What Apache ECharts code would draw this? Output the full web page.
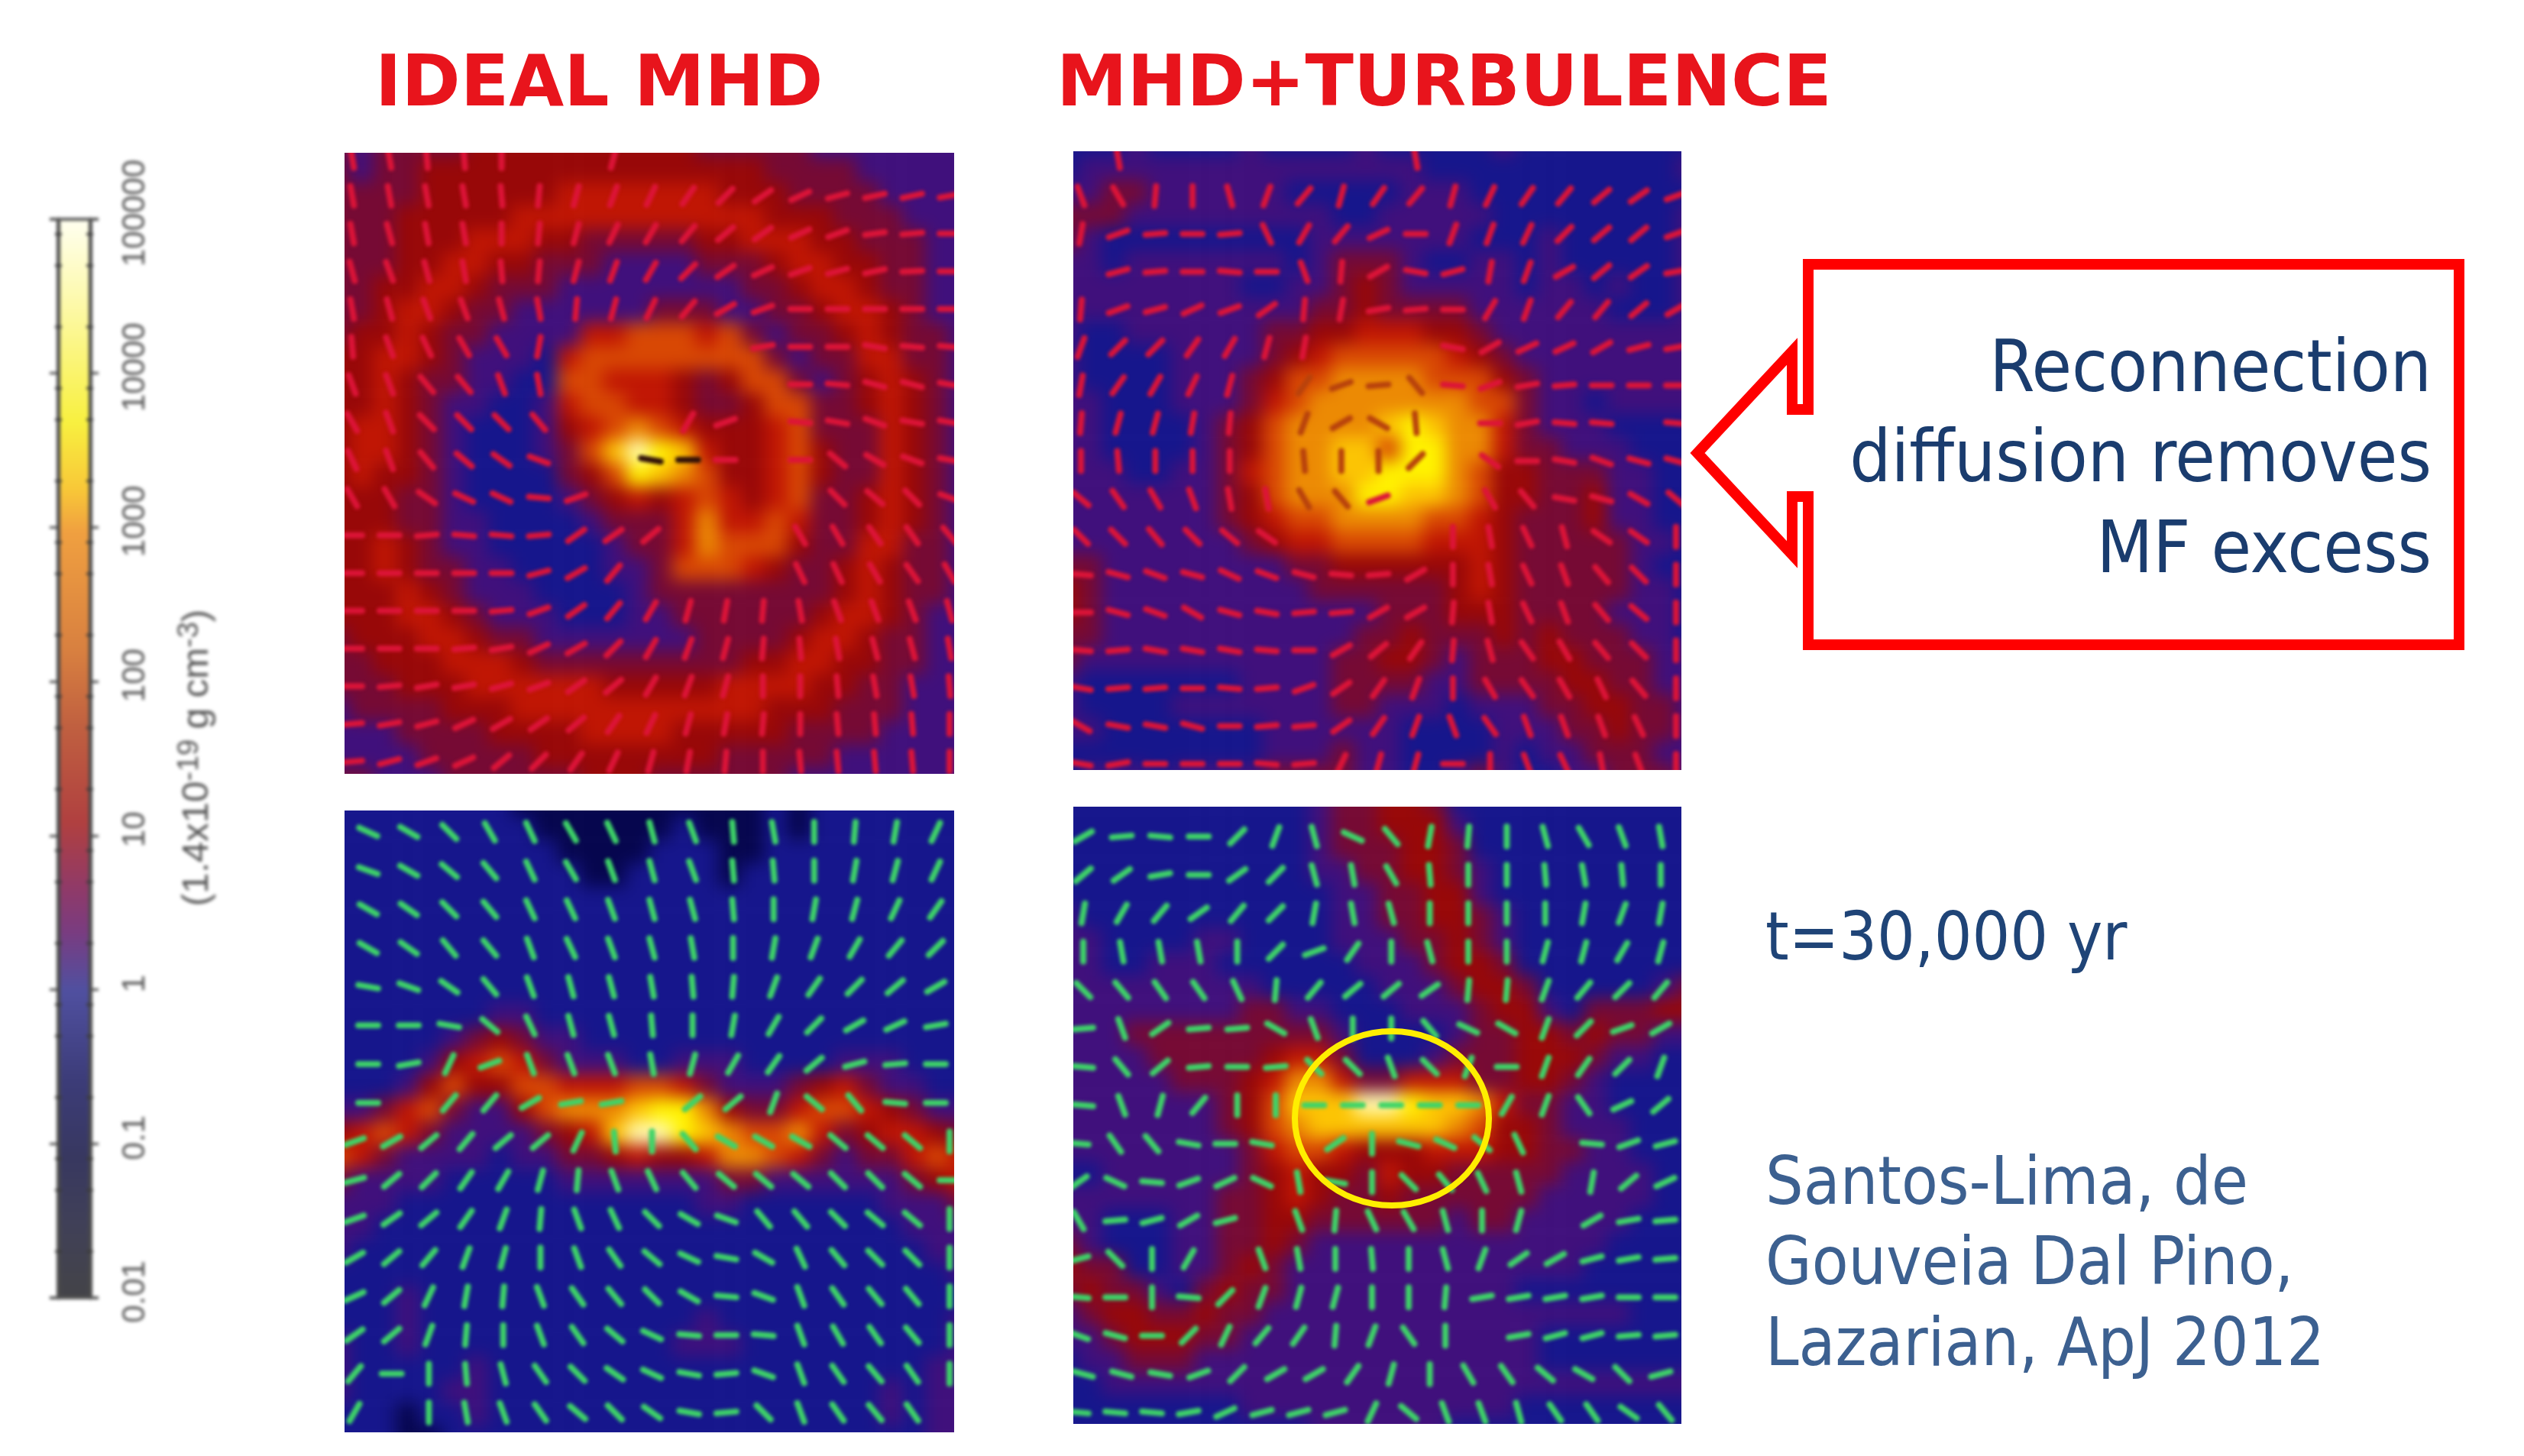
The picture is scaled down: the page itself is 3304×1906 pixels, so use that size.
<!DOCTYPE html>
<html>
<head>
<meta charset="utf-8">
<title>MHD density maps</title>
<script src="https://cdn.jsdelivr.net/npm/echarts@6/dist/echarts.min.js"></script>
<style>
html,body{margin:0;padding:0;background:#fff;}
.layer{position:absolute;left:0;top:0;width:3304px;height:1906px;}
#heat{filter:blur(11px);}
#detail{filter:blur(2.2px);}
</style>
</head>
<body>
<div id="heat" class="layer"></div>
<div id="detail" class="layer"></div>
<div id="overlay" class="layer"></div>
<script>
// density level of each cell, 0 = darkest blue ... 10 = white hot
var heatA = [
[3,2,3,3,3,3,4,4,4,4,4,4,4,4,4,4,3,3,3,3,3,2,2,2,2,2,2,2],
[3,2,3,3,4,4,4,4,4,4,4,4,4,4,4,4,4,4,4,3,3,3,3,2,2,2,2,2],
[3,3,3,3,4,4,4,4,4,4,5,5,5,5,5,5,5,4,4,4,3,3,3,3,2,2,2,2],
[3,3,3,4,4,4,4,4,5,5,5,5,5,5,5,5,5,5,5,4,4,4,3,3,3,2,2,2],
[3,3,3,4,4,4,5,5,5,4,4,3,3,3,3,3,4,4,5,5,5,4,4,3,3,3,2,2],
[3,3,3,4,4,5,5,4,4,3,3,3,2,2,2,2,3,3,3,4,5,5,4,4,3,3,2,2],
[3,3,4,4,5,5,4,3,3,3,2,2,2,2,2,2,2,2,3,3,4,5,5,4,3,3,2,2],
[3,3,4,5,5,4,3,3,2,2,2,2,2,2,3,3,3,2,2,3,3,4,5,5,4,3,2,2],
[3,4,4,5,4,3,3,2,2,2,2,5,5,6,6,6,5,6,3,2,3,3,4,5,4,3,3,2],
[4,4,5,5,4,3,2,2,2,1,5,6,6,6,6,6,6,6,6,3,2,3,3,5,5,3,3,2],
[4,4,5,4,3,3,2,2,1,1,6,6,5,5,5,4,3,4,6,6,3,2,3,4,5,4,3,2],
[4,4,5,4,3,2,2,1,1,2,5,6,6,5,5,4,3,3,4,6,6,3,3,4,5,4,3,2],
[4,5,5,4,3,2,1,1,1,2,4,5,6,7,6,5,4,4,4,5,6,3,3,3,5,4,3,2],
[4,5,5,4,3,2,1,1,1,2,3,6,8,10,9,8,5,4,4,5,6,4,3,3,5,4,3,2],
[4,5,4,4,3,2,1,1,1,1,3,4,6,9,8,7,6,4,4,5,6,4,3,3,5,4,3,2],
[4,4,4,3,3,2,1,1,1,1,2,3,4,5,4,5,6,5,4,5,6,3,3,4,5,4,3,2],
[4,4,4,3,3,2,2,1,1,1,1,2,3,3,3,5,7,5,5,6,5,3,3,4,5,4,3,2],
[4,4,5,4,3,2,2,1,1,1,1,1,2,3,3,5,7,6,6,6,4,3,3,5,5,3,3,2],
[4,4,5,4,3,3,2,2,1,1,1,1,2,2,3,6,6,6,5,4,3,3,4,5,4,3,3,2],
[4,4,4,5,4,3,2,2,2,1,1,1,1,2,3,3,3,3,3,3,3,3,4,5,4,3,3,2],
[4,4,4,5,5,4,3,2,2,2,1,1,1,2,2,3,3,3,3,3,3,4,5,5,4,3,2,2],
[3,4,4,4,5,5,4,3,3,2,2,2,2,2,2,2,3,3,3,3,4,5,5,4,3,3,2,2],
[3,3,4,4,4,5,5,5,4,3,3,3,3,3,3,3,3,3,4,4,5,5,4,4,3,3,2,2],
[3,3,3,4,4,4,5,5,5,5,5,5,4,4,4,4,4,5,5,5,5,4,4,3,3,2,2,2],
[2,3,3,3,3,4,4,4,5,5,5,5,5,5,5,5,5,5,5,4,4,4,3,3,3,2,2,2],
[2,2,2,3,3,3,3,4,4,4,4,5,5,5,5,4,4,4,4,4,3,3,3,3,2,2,2,2],
[2,2,2,2,3,3,3,3,3,4,4,4,4,4,4,4,4,3,3,3,3,3,2,2,2,2,2,2],
[3,3,2,2,2,3,3,3,3,3,3,4,4,4,3,3,3,3,3,3,2,2,2,2,2,2,2,2]
];
var heatB = [
[1,1,1,2,1,1,1,1,2,1,1,1,1,2,1,1,1,1,1,2,1,1,1,1,1,1,1,1],
[1,2,2,2,2,2,2,2,2,2,2,2,2,2,2,2,1,1,1,1,1,1,1,1,1,1,1,2],
[2,2,3,3,2,2,2,2,2,2,1,1,1,1,1,2,2,2,1,1,1,1,1,1,1,1,1,1],
[3,3,3,2,2,2,2,2,2,2,2,2,1,1,2,2,2,2,2,1,1,1,1,1,1,1,1,2],
[3,2,1,1,1,1,1,1,1,1,1,2,2,2,2,2,2,2,1,1,1,2,1,1,1,1,1,2],
[2,2,1,2,2,2,2,2,2,2,1,2,3,3,3,2,1,1,2,2,1,2,1,1,1,1,1,2],
[2,2,2,2,2,2,2,2,1,1,2,2,3,4,3,2,2,2,2,2,1,2,2,1,2,1,1,2],
[2,2,2,2,2,2,2,2,2,2,2,3,3,4,3,3,3,3,2,2,2,2,2,2,1,1,1,2],
[2,1,1,2,2,2,2,2,2,3,3,4,4,5,5,5,4,4,3,2,2,2,2,2,2,2,2,2],
[2,1,1,1,1,2,2,2,2,3,4,5,6,6,6,6,6,5,4,3,2,2,2,2,2,2,2,2],
[2,1,1,1,1,2,2,2,3,4,6,6,7,7,7,7,6,6,6,4,3,2,2,2,2,2,2,2],
[2,2,1,1,1,2,2,2,3,5,6,7,7,7,7,7,7,7,6,6,3,2,2,1,2,2,2,2],
[2,2,1,1,1,1,2,3,4,6,7,7,7,7,8,9,8,7,7,5,3,2,2,2,1,1,1,1],
[2,2,1,1,1,1,2,3,4,6,7,7,8,8,6,9,9,7,7,5,3,3,2,2,2,1,1,1],
[2,2,2,1,1,2,2,3,5,6,7,7,8,8,9,9,9,7,6,4,4,3,3,3,2,2,1,1],
[2,2,2,2,2,2,2,3,4,6,7,7,7,9,9,8,8,7,6,4,4,3,3,4,2,2,1,1],
[2,2,2,2,2,2,2,3,4,5,6,6,7,7,7,7,6,6,5,4,3,3,3,4,2,2,1,1],
[2,2,2,2,2,2,2,2,3,4,5,5,6,6,6,6,5,5,5,4,3,3,3,3,3,2,2,1],
[3,3,2,2,2,2,2,2,2,2,3,3,4,4,4,4,4,4,5,4,3,3,3,3,3,2,1,1],
[4,3,2,2,2,2,2,2,2,2,2,3,3,3,3,3,3,4,5,4,3,3,3,3,3,2,2,1],
[4,3,2,2,2,2,2,2,2,2,2,2,2,2,3,3,3,4,4,4,3,3,3,3,2,2,2,1],
[3,3,2,2,2,2,2,2,2,2,2,2,2,3,3,4,3,3,3,4,3,4,3,3,3,2,2,1],
[3,2,2,2,2,2,2,2,2,2,2,2,3,3,4,4,3,2,3,3,3,4,4,3,3,3,2,2],
[2,1,1,1,1,1,1,1,2,2,2,2,3,3,3,3,2,2,3,3,3,3,4,4,3,3,2,2],
[2,1,1,1,1,2,2,2,2,2,2,2,3,3,2,2,2,1,2,2,2,3,3,4,4,3,3,2],
[2,2,1,1,1,1,1,1,1,2,2,2,2,2,2,1,1,1,1,2,2,2,3,3,4,3,3,2],
[1,1,1,1,1,1,1,1,1,2,2,2,3,2,2,1,1,1,1,2,1,2,2,3,3,3,2,2],
[1,2,2,2,1,2,2,2,2,3,3,3,3,2,2,1,1,2,3,2,1,1,2,2,3,3,3,2]
];
var heatC = [
[1,1,1,1,1,1,1,1,0,0,0,0,0,0,0,0,0,0,0,1,0,1,1,1,1,1,1,1],
[1,1,1,1,1,1,1,1,1,0,0,0,0,0,0,1,0,0,0,1,0,1,1,1,1,1,1,1],
[1,1,1,1,1,1,1,1,1,1,0,0,0,0,1,1,1,0,0,1,1,1,1,1,1,1,1,1],
[1,1,1,1,1,1,1,1,1,1,1,0,0,1,1,1,1,0,1,1,1,1,1,1,1,1,1,1],
[1,1,1,1,1,1,1,1,1,1,1,1,1,1,1,1,1,1,1,1,1,1,1,1,1,1,1,1],
[1,1,1,1,1,1,1,1,1,1,1,1,1,1,1,1,1,1,1,1,1,1,1,1,1,1,1,1],
[1,1,1,1,1,1,1,1,1,1,1,1,1,1,1,1,1,1,1,1,1,1,1,1,1,1,1,1],
[1,1,1,1,1,1,1,1,1,1,1,1,1,1,1,1,1,1,1,1,1,1,1,1,1,1,1,1],
[1,1,1,1,1,1,1,1,1,1,1,1,1,1,1,1,1,1,1,1,1,1,1,1,1,1,1,1],
[1,1,1,1,1,1,1,2,2,1,1,1,1,1,1,1,1,1,1,1,1,1,1,1,1,1,1,1],
[1,1,1,1,1,2,3,4,3,2,2,1,1,1,1,1,1,1,1,1,1,1,1,1,1,1,1,1],
[1,1,1,1,2,4,5,6,5,3,2,2,2,1,1,2,2,2,1,1,1,1,2,2,2,1,1,1],
[1,1,1,2,4,6,4,4,6,6,5,5,5,6,6,5,3,2,2,2,3,4,5,3,2,2,1,1],
[2,2,3,5,6,3,2,2,4,6,7,7,7,8,9,9,7,4,3,3,5,6,6,5,4,3,2,2],
[4,5,6,5,3,2,2,2,2,3,4,5,8,10,10,9,8,7,6,6,7,5,3,4,5,5,4,3],
[6,5,3,2,2,2,2,1,2,2,3,3,4,5,4,4,5,7,7,6,5,3,2,3,3,5,6,5],
[3,2,2,2,2,1,1,1,1,1,2,2,2,2,2,2,2,3,3,2,2,2,2,2,2,3,4,5],
[2,2,2,1,1,1,1,1,1,1,1,1,1,1,1,1,2,2,1,1,1,1,1,1,2,2,2,3],
[2,2,1,1,1,1,1,1,1,1,1,1,1,1,1,1,1,1,1,1,1,1,1,1,1,2,2,2],
[2,1,1,1,1,1,1,1,1,1,1,1,1,1,1,1,1,1,1,1,1,1,1,1,1,1,2,2],
[1,1,1,1,1,1,1,1,1,1,1,1,1,1,1,1,1,1,1,1,1,1,1,1,1,1,1,2],
[1,1,1,2,1,1,1,1,1,1,1,1,1,1,1,1,1,1,1,1,1,1,1,1,1,1,1,1],
[1,1,1,2,1,1,1,1,1,1,1,1,1,1,1,1,2,1,1,1,1,1,1,1,1,1,1,2],
[2,1,1,2,1,1,1,1,1,1,1,1,1,1,1,2,2,2,1,1,1,1,1,1,1,1,1,2],
[2,1,1,1,1,1,2,1,1,1,1,1,1,1,1,1,1,1,1,1,1,1,1,1,1,1,2,2],
[2,1,1,1,1,2,2,1,1,1,1,1,1,1,1,1,1,1,1,1,1,1,1,1,2,1,2,2],
[1,1,1,0,1,1,2,1,1,1,1,1,1,1,1,1,1,1,1,1,1,1,1,1,2,1,2,2],
[1,1,1,0,0,1,1,1,1,1,1,1,1,1,1,1,1,1,1,1,1,1,1,1,1,1,2,2]
];
var heatD = [
[1,1,1,1,1,1,1,1,1,1,1,2,3,3,4,4,3,1,1,1,1,1,1,1,1,1,1,1],
[1,1,1,1,1,1,1,1,1,1,1,2,3,3,4,4,4,2,1,1,1,1,1,1,1,1,1,1],
[1,1,1,1,1,1,1,1,1,1,1,2,3,3,3,4,4,3,1,1,1,1,1,1,1,1,1,1],
[1,1,1,1,1,1,1,1,1,1,1,2,2,3,3,4,4,3,2,1,1,1,1,1,1,1,1,1],
[1,1,1,1,1,1,1,1,1,1,1,1,2,2,3,3,4,4,2,1,1,1,1,1,1,1,1,1],
[2,1,1,1,1,1,1,1,1,1,1,1,2,2,3,3,4,4,3,2,1,1,1,1,1,1,1,1],
[2,2,1,1,1,1,2,2,1,1,1,1,2,2,2,3,3,4,3,2,1,1,1,1,1,1,1,1],
[2,2,1,1,2,2,2,1,1,1,1,1,1,2,2,2,3,4,4,3,1,1,1,1,1,1,1,1],
[2,2,2,2,2,2,2,2,2,1,1,1,1,1,2,2,2,3,4,4,3,1,1,1,1,1,2,3],
[2,2,2,2,2,2,2,2,3,3,2,2,1,1,1,2,2,2,3,4,4,2,1,3,3,3,4,4],
[2,2,2,3,3,3,3,3,3,3,3,3,2,1,1,1,1,2,3,3,4,4,3,4,3,3,2,2],
[2,2,2,2,3,3,3,3,3,4,5,5,3,1,1,1,2,3,3,3,4,4,4,3,2,2,1,1],
[2,2,2,2,2,3,3,3,4,5,7,7,5,3,3,5,5,5,3,3,4,4,3,2,1,1,1,1],
[2,2,2,2,2,2,2,3,4,6,8,8,8,10,10,9,8,8,7,5,3,3,2,2,1,1,1,1],
[2,2,2,2,2,2,2,3,4,6,7,8,8,8,8,8,8,7,6,4,4,3,2,2,2,1,1,1],
[2,2,2,2,2,2,2,2,3,5,6,6,5,4,4,4,5,5,5,4,4,3,3,2,2,1,1,1],
[1,1,2,2,2,2,2,2,3,4,5,4,4,3,5,4,4,3,3,3,3,3,2,2,2,2,1,1],
[2,2,2,2,2,2,2,3,3,4,5,4,3,3,4,3,3,3,3,3,3,2,2,2,2,2,1,1],
[2,2,1,1,1,2,2,3,3,4,4,3,3,3,3,3,3,2,3,3,2,2,2,2,2,1,1,1],
[3,2,1,1,1,2,2,3,3,4,3,2,2,2,2,2,2,2,2,2,2,2,2,2,1,1,1,1],
[4,3,3,1,1,2,2,3,4,3,2,2,2,2,2,2,2,2,2,2,2,2,2,1,1,1,1,1],
[3,4,3,3,2,1,3,4,3,3,2,2,2,2,2,2,2,2,2,2,1,1,1,1,1,1,1,1],
[2,3,4,4,3,3,4,3,3,2,2,2,2,2,2,2,2,2,2,2,2,2,2,2,2,1,1,1],
[2,2,3,4,4,4,3,3,2,2,2,2,2,2,2,2,2,2,2,2,2,1,1,1,1,1,1,1],
[1,2,2,3,3,3,2,2,2,2,2,2,2,2,2,2,2,2,2,2,2,1,1,1,1,1,1,1],
[1,1,2,2,2,2,2,2,2,2,2,2,2,2,2,2,2,2,2,2,2,2,2,2,2,2,2,2],
[1,1,1,1,1,1,1,1,2,2,2,2,2,2,2,2,2,2,2,2,1,1,1,1,1,1,1,1],
[1,1,1,1,1,1,1,1,1,1,1,2,2,2,2,2,2,1,1,1,1,1,1,1,1,1,1,1]
];
// field direction at each arrow, degrees from horizontal, null where none shows
var vectorsA = [
[100,100,95,95,90,null,null,75,null,null,null,null,null,null,null,null,null],
[100,100,100,100,95,85,75,70,65,55,45,35,25,15,12,12,10],
[100,105,100,100,90,85,75,65,60,50,40,35,25,20,8,5,0],
[105,110,105,100,95,85,75,70,60,45,35,25,20,15,12,3,0],
[100,105,110,110,105,100,85,75,65,50,30,20,0,0,0,0,0],
[95,110,115,120,120,80,null,null,null,null,null,10,0,0,170,175,175],
[110,110,130,130,110,100,null,null,null,null,null,null,0,175,165,165,170],
[120,110,135,135,135,130,null,null,null,60,20,null,175,170,160,170,170],
[115,110,130,140,145,160,null,null,170,0,0,null,0,140,150,160,170],
[120,120,145,155,155,175,20,null,null,null,null,null,null,135,140,135,160],
[0,0,5,175,175,5,35,35,40,null,null,null,120,120,125,125,130],
[0,0,0,0,0,15,30,50,null,null,null,null,115,115,120,125,120],
[0,0,0,0,5,20,35,50,60,75,80,85,100,110,110,110,105],
[0,0,0,5,10,25,30,45,60,70,75,85,95,100,105,105,100],
[0,5,10,10,15,20,35,40,60,70,75,90,90,95,100,100,95],
[5,10,15,25,30,35,40,55,65,75,80,85,90,95,95,95,90],
[5,15,20,25,40,45,55,65,75,80,85,90,95,95,95,95,90]
];
var vectorsB = [
[null,100,null,null,null,null,null,null,null,100,null,null,null,null,null,null,null],
[110,120,85,90,105,70,50,75,55,50,75,65,55,50,40,35,20],
[80,20,5,0,5,115,60,50,25,0,70,70,65,45,40,40,20],
[null,15,5,0,175,0,110,85,30,170,15,80,70,30,40,35,10],
[85,20,15,25,20,35,85,80,10,5,0,60,70,50,50,40,30],
[70,45,45,55,60,75,80,null,null,null,170,30,25,25,30,15,10],
[80,55,60,65,75,null,55,20,5,130,175,20,10,5,0,0,0],
[85,75,75,80,85,null,70,30,150,95,null,0,10,175,175,null,175],
[90,95,90,90,90,null,95,90,90,45,null,145,0,170,160,165,165],
[140,125,120,110,100,100,120,130,20,null,null,120,130,170,165,150,140],
[135,135,130,135,140,145,null,null,null,null,90,100,115,105,145,145,90],
[175,165,160,165,155,160,165,175,5,30,90,100,115,110,130,135,90],
[0,165,160,150,165,170,5,5,30,30,85,100,115,110,130,140,90],
[175,5,170,170,170,175,0,30,40,55,85,105,125,120,130,135,90],
[170,5,5,0,175,5,20,35,55,70,90,120,125,120,115,130,90],
[150,170,170,165,0,5,5,35,55,70,110,125,110,110,110,115,90],
[170,10,0,0,0,175,5,65,75,75,0,90,110,115,100,110,90]
];
var vectorsC = [
[155,150,135,120,115,120,115,105,110,95,100,90,85,80,65],
[160,150,140,130,115,120,110,105,110,95,95,90,80,75,65],
[150,145,135,130,115,115,110,105,105,95,90,80,75,65,55],
[150,145,130,130,110,115,110,105,100,90,80,70,60,50,45],
[170,160,145,130,110,105,105,100,95,85,70,55,45,40,30],
[0,0,170,140,115,105,105,95,90,80,60,45,30,25,10],
[0,10,65,20,110,110,110,100,75,60,55,40,15,5,0],
[0,null,50,50,30,10,10,null,40,40,70,140,130,175,0],
[20,30,40,50,40,40,65,95,90,130,150,150,150,140,140,140,90],
[15,40,45,55,60,75,85,110,115,130,140,140,140,135,135,140,0],
[20,35,40,55,70,85,110,115,135,150,160,130,130,135,140,140,90],
[30,40,50,70,75,90,110,125,140,155,170,150,115,130,135,135,90],
[25,40,65,80,85,110,125,130,135,150,175,160,110,125,130,130,90],
[35,40,70,85,90,110,125,140,155,175,0,175,110,120,125,130,90],
[50,0,90,95,105,125,135,145,155,170,5,160,110,125,130,125,90],
[60,null,90,100,110,125,140,135,145,170,5,135,110,125,130,125,null]
];
var vectorsD = [
[30,5,175,0,45,70,105,155,130,80,85,90,105,120,110,100],
[40,35,10,0,35,45,105,100,120,95,90,90,95,100,95,90],
[80,60,50,35,50,45,80,100,105,90,90,90,90,80,70,80],
[90,100,100,100,90,45,20,55,90,105,90,90,75,75,60,75],
[135,130,125,125,115,85,50,40,40,35,85,85,70,50,45,50],
[5,110,35,5,5,150,110,90,90,130,155,150,70,45,20,30],
[175,130,40,5,0,5,135,135,110,135,70,0,70,55,45,70],
[175,110,75,50,90,90,0,0,0,0,0,60,70,125,25,40],
[175,125,130,170,0,170,null,35,90,165,155,140,115,null,175,20,15],
[35,155,175,20,25,155,100,170,90,135,130,115,105,null,80,40,25],
[120,5,15,30,15,null,110,85,115,120,105,90,75,null,30,10,5],
[15,135,90,60,null,110,100,90,95,90,105,70,35,30,15,10,5],
[175,0,90,175,45,70,75,75,90,90,85,10,10,10,10,0,0],
[160,165,0,45,65,50,55,85,70,125,90,null,10,15,15,5,5],
[165,165,170,20,45,30,30,55,75,90,120,125,140,150,135,15],
[175,175,175,10,25,15,15,15,65,140,110,110,105,125,125,145,130]
];
// [row, col] of the arrows that go dark over the bright core
var darkA = [[8,8],[8,9]];
var darkB = [[6,6],[6,7],[6,8],[6,9],[7,6],[7,7],[7,8],[7,9],[8,6],[8,7],[8,8],[8,9],[9,6],[9,7]];
var heatColors = ["#06064e","#16168c","#40107c","#760a34","#980808","#c01604","#d84804","#ec8a04","#fcc404","#fff200","#fffbb0"];
var colorbarOffsets = [0,0.08,0.188,0.25,0.29,0.40,0.47,0.56,0.62,0.66,0.715,0.80,0.87,0.93,1];
var colorbarColors = ["#fffff0","#fdf9a8","#f8f040","#f8c838","#f0a040","#d88040","#c06040","#b04040","#903a68","#7a3c80","#5050a0","#3c3c78","#383860","#404058","#444448"];
var colorbarMin = 0.01;
var colorbarMax = 100000;
var colorbarMinor = [0.02,0.05,0.08,0.2,0.5,0.8,2,5,8,20,50,80,200,500,800,2000,5000,8000,20000,50000,80000];
var titleLabels = ["IDEAL MHD","MHD+TURBULENCE"];
var calloutLines = ["Reconnection","diffusion removes","MF excess"];
var timeLabel = "t=30,000 yr";
var referenceLines = ["Santos-Lima, de","Gouveia Dal Pino,","Lazarian, ApJ 2012"];

// panel rectangles on the page
var panels = [
    {heat: heatA, vectors: vectorsA, dark: darkA, color: "#dc1438", box: [451, 200, 798, 813], arrows: [461, 207, 782, 790]},
    {heat: heatB, vectors: vectorsB, dark: darkB, color: "#dc1438", box: [1405, 198, 796, 810], arrows: [1415, 207, 779, 793]},
    {heat: heatC, vectors: vectorsC, dark: [], color: "#3ed468", box: [451, 1061, 798, 814], arrows: [464, 1089, 779, 760]},
    {heat: heatD, vectors: vectorsD, dark: [], color: "#3ed468", box: [1405, 1056, 796, 808], arrows: [1412, 1095, 768, 754]}
];
var rowStep = {15: 1.09, 16: 1.05, 17: 1};
var bleed = 23;

function range(n) {
    var out = [];
    for (var i = 0; i < n; i++) out.push(i);
    return out;
}

// clip blurred layers back to the square panels, plus the colour bar strip
var clipPath = "";
panels.forEach(function (p) {
    var b = p.box;
    clipPath += "M" + b[0] + " " + b[1] + "H" + (b[0] + b[2]) + "V" + (b[1] + b[3]) + "H" + b[0] + "Z ";
});
document.getElementById("heat").style.clipPath = "path('" + clipPath + "')";
document.getElementById("detail").style.clipPath = "path('" + clipPath + "M0 0H400V1906H0Z')";

var heatOption = {
    animation: false,
    grid: [], xAxis: [], yAxis: [], series: [],
    visualMap: {show: false, min: 0, max: 10, seriesIndex: [0, 1, 2, 3], inRange: {color: heatColors}}
};
panels.forEach(function (p, k) {
    var b = p.box, cells = [];
    p.heat.forEach(function (row, r) {
        row.forEach(function (v, c) { cells.push([c, r, v]); });
    });
    heatOption.grid.push({left: b[0] - bleed, top: b[1] - bleed, width: b[2] + bleed * 2, height: b[3] + bleed * 2});
    heatOption.xAxis.push({type: "category", gridIndex: k, show: false, data: range(p.heat[0].length)});
    heatOption.yAxis.push({type: "category", gridIndex: k, show: false, inverse: true, data: range(p.heat.length)});
    heatOption.series.push({type: "heatmap", xAxisIndex: k, yAxisIndex: k, data: cells, silent: true, progressive: 0});
});
echarts.init(document.getElementById("heat")).setOption(heatOption);

function renderArrow(color, darkColor) {
    return function (params, api) {
        var c = api.coord([api.value(0), api.value(1)]);
        var a = api.value(2) * Math.PI / 180;
        var dx = Math.cos(a) * 13, dy = Math.sin(a) * 13;
        return {
            type: "line",
            shape: {x1: c[0] - dx, y1: c[1] + dy, x2: c[0] + dx, y2: c[1] - dy},
            style: {stroke: api.value(3) ? darkColor : color, lineWidth: 8, lineCap: "round", fill: null}
        };
    };
}

var detailOption = {animation: false, grid: [], xAxis: [], yAxis: [], series: []};
panels.forEach(function (p, k) {
    var b = p.arrows, marks = [];
    p.vectors.forEach(function (row, r) {
        var step = rowStep[row.length];
        row.forEach(function (angle, i) {
            if (angle === null) return;
            var isDark = p.dark.some(function (d) { return d[0] === r && d[1] === i; });
            marks.push([8 + (i - (row.length - 1) / 2) * step, r, angle, isDark ? 1 : 0]);
        });
    });
    detailOption.grid.push({left: b[0], top: b[1], width: b[2], height: b[3]});
    detailOption.xAxis.push({type: "value", gridIndex: k, show: false, min: 0, max: 16});
    detailOption.yAxis.push({type: "value", gridIndex: k, show: false, inverse: true, min: 0, max: p.vectors.length - 1});
    detailOption.series.push({type: "custom", xAxisIndex: k, yAxisIndex: k, clip: false, silent: true, data: marks,
        renderItem: renderArrow(p.color, k === 0 ? "#301008" : "#b8420c")});
});

// colour bar on its own log axis
function decadeLabel(v) { return String(+(+v).toPrecision(3)); }
var barStops = colorbarColors.map(function (c, i) { return {offset: colorbarOffsets[i], color: c}; });
detailOption.grid.push({left: 76, top: 287, width: 42, height: 1412});
detailOption.xAxis.push({type: "value", gridIndex: 4, show: false, min: 0, max: 1});
var barAxis = {
    type: "log", logBase: 10, gridIndex: 4, min: colorbarMin, max: colorbarMax,
    splitLine: {show: false}, minorTick: {show: false},
    axisLine: {show: true, lineStyle: {color: "#4a4a4a", width: 5}},
    axisTick: {show: true, length: 11, lineStyle: {color: "#4a4a4a", width: 3}},
    z: 5
};
detailOption.yAxis.push(Object.assign({}, barAxis, {position: "left", axisLabel: {show: false}}));
detailOption.yAxis.push(Object.assign({}, barAxis, {
    position: "right",
    axisLabel: {show: true, rotate: 90, margin: 38, padding: [0, 0, 0, 16], color: "#555", fontSize: 42, fontFamily: "Liberation Sans", formatter: decadeLabel}
}));
detailOption.series.push({
    type: "custom", xAxisIndex: 4, yAxisIndex: 4, clip: false, silent: true, data: [[0, colorbarMin, 1, colorbarMax]],
    renderItem: function (params, api) {
        var a = api.coord([api.value(0), api.value(3)]);
        var b = api.coord([api.value(2), api.value(1)]);
        return {type: "rect", shape: {x: a[0], y: a[1], width: b[0] - a[0], height: b[1] - a[1]},
            style: {fill: new echarts.graphic.LinearGradient(0, 0, 0, 1, barStops)}};
    }
});
detailOption.series.push({
    type: "custom", xAxisIndex: 4, yAxisIndex: 4, clip: false, silent: true, z: 6,
    data: colorbarMinor.map(function (v) { return [0, v]; }),
    renderItem: function (params, api) {
        var v = api.value(1), l = api.coord([0, v]), r = api.coord([1, v]);
        var st = {stroke: "#3a3a3a", lineWidth: 3, fill: null};
        return {type: "group", children: [
            {type: "line", shape: {x1: l[0] - 4, y1: l[1], x2: l[0] + 5, y2: l[1]}, style: st},
            {type: "line", shape: {x1: r[0] - 5, y1: r[1], x2: r[0] + 4, y2: r[1]}, style: st}
        ]};
    }
});
detailOption.series.push({
    type: "custom", xAxisIndex: 4, yAxisIndex: 4, clip: false, silent: true, z: 6,
    data: [[0, colorbarMin], [0, colorbarMax]],
    renderItem: function (params, api) {
        var v = api.value(1), l = api.coord([0, v]), r = api.coord([1, v]);
        return {type: "line", shape: {x1: l[0] - 11, y1: l[1], x2: r[0] + 11, y2: r[1]}, style: {stroke: "#555", lineWidth: 4, fill: null}};
    }
});
detailOption.graphic = [{
    type: "text", x: 258, y: 992, rotation: Math.PI / 2,
    style: {
        text: "{a|(1.4x10}{s|-19}{a| g cm}{s|-3}{a|)}",
        align: "center", verticalAlign: "middle", fill: "#555",
        rich: {
            a: {fontSize: 49, fontFamily: "Liberation Sans", fill: "#555"},
            s: {fontSize: 38, fontFamily: "Liberation Sans", fill: "#555", verticalAlign: "top", padding: [0, 0, 18, 0]}
        }
    }
}];
echarts.init(document.getElementById("detail")).setOption(detailOption);

// titles, callout and notes
var bodyFont = "'DejaVu Sans Condensed','Liberation Sans',sans-serif";
function label(text, x, y, size, color, align, weight) {
    return {type: "text", x: x, y: y, z: 10, style: {
        text: text, fill: color, align: align, verticalAlign: "middle",
        font: (weight || "normal") + " " + size + "px " + bodyFont
    }};
}
var overlayItems = [
    {type: "text", x: 491, y: 114, style: {text: titleLabels[0], fill: "#e8141c", align: "left", verticalAlign: "middle", font: "bold 93px 'DejaVu Sans',sans-serif"}},
    {type: "text", x: 1383, y: 114, style: {text: titleLabels[1], fill: "#e8141c", align: "left", verticalAlign: "middle", font: "bold 93px 'DejaVu Sans',sans-serif"}},
    {type: "polygon", shape: {points: [[2367,346],[3219,346],[3219,844],[2367,844],[2367,650],[2346,650],[2346,726],[2222,593],[2346,460],[2346,536],[2367,536]]},
        style: {fill: "#fff", stroke: "#ff0000", lineWidth: 14, lineJoin: "miter", miterLimit: 10}},
    {type: "ellipse", shape: {cx: 1822, cy: 1464, rx: 127, ry: 114}, z: 9, style: {fill: "none", stroke: "#ffee00", lineWidth: 8}}
];
calloutLines.forEach(function (t, i) {
    overlayItems.push(label(t, 3183, 487 + i * 118.5, 95, "#1a3c6e", "right"));
});
overlayItems.push(label(timeLabel, 2311, 1233, 87, "#1f4477", "left"));
referenceLines.forEach(function (t, i) {
    overlayItems.push(label(t, 2311, 1553 + i * 105.5, 87, "#3c6090", "left"));
});
echarts.init(document.getElementById("overlay")).setOption({animation: false, graphic: overlayItems});
</script>
</body>
</html>
